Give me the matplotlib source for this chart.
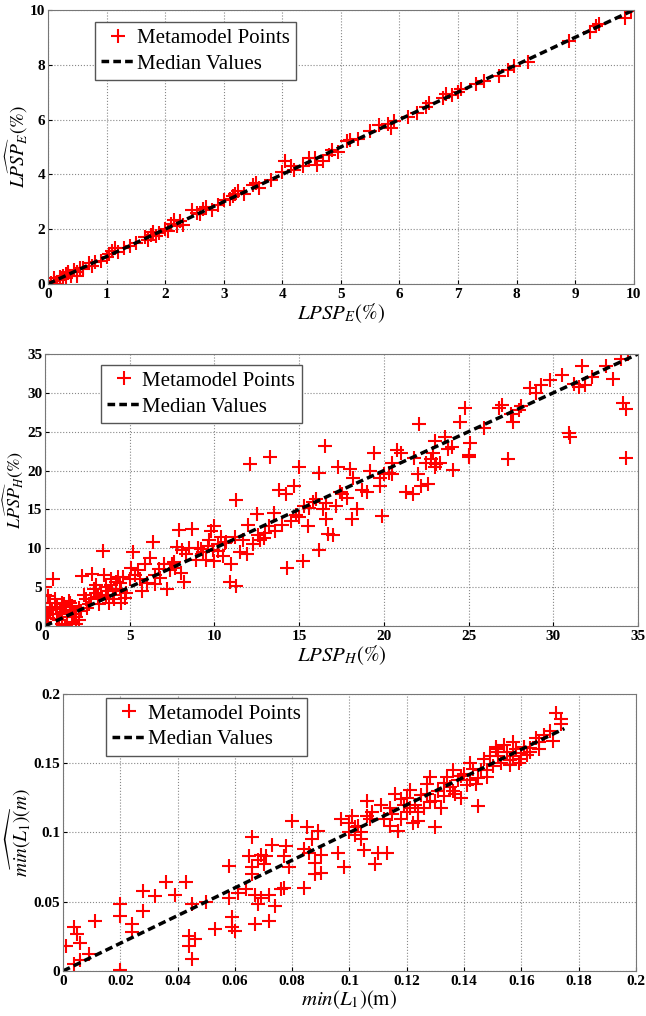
import numpy as np
import matplotlib
matplotlib.use("Agg")
import matplotlib.pyplot as plt
from matplotlib.ticker import FuncFormatter

plt.rcParams['font.family'] = ['Liberation Serif', 'DejaVu Serif']
plt.rcParams['mathtext.fontset'] = 'stix'

# panel 1: LPSP_E
e_x = [0.05, 0.1, 0.1, 0.15, 0.2, 0.25, 0.3, 0.3, 0.35, 0.4, 0.45, 0.5, 0.5, 0.55, 0.6, 0.7, 0.75, 0.8,
       0.9, 1.0, 1.1, 1.15, 1.2, 1.3, 1.4, 1.5, 1.65, 1.7, 1.75, 1.8, 1.85, 1.9, 2.0, 2.1, 2.15, 2.2,
       2.25, 2.3, 2.45, 2.55, 2.65, 2.7, 2.8, 2.9, 3.0, 3.1, 3.2, 3.25, 3.35, 3.5, 3.55, 3.6, 3.8, 4.0,
       4.05, 4.15, 4.2, 4.35, 4.45, 4.55, 4.6, 4.7, 4.8, 4.85, 4.95, 5.1, 5.15, 5.3, 5.5, 5.65, 5.8,
       5.85, 5.9, 6.15, 6.3, 6.45, 6.5, 6.75, 6.8, 6.9, 7.0, 7.05, 7.3, 7.45, 7.7, 7.85, 7.95, 8.2,
       8.9, 9.25, 9.35, 9.4, 9.85, 9.95, 0.2, 0.35, 0.6, 1.05, 2.05, 2.6, 3.15]
e_y = [0.05, 0.1, 0.2, 0.0, 0.15, 0.3, 0.35, 0.2, 0.4, 0.3, 0.5, 0.45, 0.3, 0.6, 0.6, 0.75, 0.65, 0.8,
       0.85, 1.0, 1.2, 1.3, 1.15, 1.3, 1.4, 1.5, 1.7, 1.6, 1.8, 1.9, 1.75, 1.85, 2.0, 2.2, 2.35, 2.1,
       2.3, 2.15, 2.7, 2.6, 2.75, 2.8, 2.7, 2.9, 3.05, 3.1, 3.3, 3.4, 3.3, 3.6, 3.7, 3.5, 3.8, 4.1,
       4.5, 4.3, 4.15, 4.3, 4.6, 4.6, 4.35, 4.5, 4.7, 4.9, 4.8, 5.2, 5.25, 5.3, 5.6, 5.8, 5.85,
       5.7, 5.95, 6.1, 6.25, 6.45, 6.6, 6.8, 6.95, 6.9, 7.0, 7.1, 7.3, 7.4, 7.6, 7.8, 7.95, 8.1,
       8.85, 9.2, 9.4, 9.5, 9.7, 9.95, 0.25, 0.45, 0.55, 1.1, 1.95, 2.55, 3.2]
e_med = [0, 10]

# panel 2: LPSP_H
h_x = [0, 0, 0, 0, 0, 0, 0.3, 0.3, 0.5, 0.5, 0.7, 0.8, 1, 1, 1, 1.2, 1.3, 1.5, 1.5, 1.6, 1.7, 1.8,
       2, 2, 1.2, 0.6, 1.4,
       2.2, 2.3, 2.4, 2.6, 2.8, 2.7, 3, 3, 3.1, 3.2, 3.4, 3.5, 3.6, 3.7, 3.8, 3.9, 4, 4.1, 4.2, 4.3,
       4.5, 4.5, 4.6, 4.7, 4.8, 3.3, 2.5,
       5.2, 5.3, 5.5, 5.6, 5.7, 5.9, 6, 6.2, 6.4, 6.5, 6.7, 7, 7.2, 7.4, 7.5, 7.7, 7.8, 7.9, 8, 8.2,
       8.3, 8.5, 8.7, 8.9, 9, 9.3, 9.5, 9.7, 9.8, 9.9, 10, 10, 10.2, 10.4, 10.5, 10.7, 10.9, 11,
       11.2, 11.3, 11.3, 11.5, 11.7, 11.9, 12, 12.1, 12.3, 12.5, 12.7, 12.9, 13, 13.3, 13.5, 13.6,
       13.8, 14, 14.2, 14.3, 14.5, 14.7, 15, 15, 15.2, 15.3, 15.5, 15.8, 16, 16.2, 16.2, 16.4, 16.5,
       16.6, 16.7, 17, 17.2, 17.3, 17.5, 17.8, 18, 18.1, 18.2, 18.4, 18.7, 19, 19.2, 19.4, 19.8,
       19.9, 20, 20.3, 20.5, 20.8, 21, 21.3, 21.7, 21.8, 22, 22.1, 22.2, 22.5, 22.6, 22.8, 23, 23,
       23.3, 23.6, 23.8, 24, 24.1, 24.5, 24.8, 25, 25, 25.1, 25.9, 26.8, 27, 27.3, 27.6, 28, 28.1,
       28.6, 29, 29.3, 29.8, 30.5, 30.9, 31, 31.5, 31.7, 31.9, 32.3, 33.1, 33.5, 34, 34.1, 34.3,
       34.3, 34.4,
       5, 5.1, 6.5, 4.2, 10.2, 9.6, 10.6, 16.6, 17.4, 19.8, 20.5, 0.2, 0.9, 1.8, 3.6, 4.4, 6.8, 7.6,
       8.1, 9.2, 12.6, 13.2, 14.8, 15.6, 22.9, 23.1, 27.5, 31.2,
       0.1, 0.4, 0.9, 1.1, 1.6, 2.1, 2.9, 3.9, 0.2, 0.7]
h_y = [5, 4, 3, 2.5, 1.5, 0.5, 2, 3, 6, 1.5, 2.5, 0.8, 3, 1.8, 0.3, 2.5, 1.2, 3, 2, 0.5, 1.5, 0.2,
       2.3, 0.8, 0.0, 3.5, 3.2,
       6.4, 4, 3.5, 2.8, 6.7, 3.5, 4.2, 5.3, 3.7, 2.8, 9.6, 6.5, 5, 4.5, 3, 6, 4, 3.5, 5.6, 6.3,
       3, 4.5, 6.3, 3.6, 4.2, 4, 2.3,
       9.5, 6.5, 7.2, 6, 4.5, 8, 5.5, 8.8, 10.8, 5.4, 7.3, 8, 4.7, 7.2, 8, 7.5, 10.2, 12.4, 6.8, 5.7,
       9.3, 10, 12.5, 8.5, 10, 9.5, 8.5, 11, 12.2, 9.8, 12.8, 8.3, 10.5, 11.5, 9, 10.8, 5.6, 8,
       11.5, 16.2, 5.2, 9.5, 11, 9.3, 13, 20.8, 10.5, 14.4, 11, 11.3, 12, 21.7, 14.5, 12.2,
       17.5, 13, 17, 7.5, 13.5, 18, 20.5, 14, 8.3, 15.5, 12.8, 16, 16.3, 19.7, 9.8, 15, 23.1,
       13.7, 11.8, 11.7, 15.4, 20.5, 17, 16.5, 20.2, 13.7, 19, 15, 17.5, 17.2, 20, 22.2, 18,
       14.2, 19.5, 19.7, 21, 22.6, 22.2, 17.2, 17, 21.6, 19.5, 26, 18, 21, 18.3, 21.5, 20.5, 23.8,
       21, 24.3, 22.8, 23, 20.1, 26.2, 28.1, 22, 21.7, 23.5, 25.5, 28, 28.4, 21.5, 26.3, 27.8, 28.3,
       30.6, 30, 31, 31.6, 32.3, 24.8, 24.3, 30.8, 33.5, 31, 32.1, 33.4, 31.8, 34.3, 28.7, 27.9,
       21.6, 35,
       6, 7.5, 6.5, 4.8, 9.7, 10.3, 10.7, 15.8, 17.3, 19, 19.6, 1, 2.2, 1.2, 4, 5.5, 6.2, 8.2,
       9.8, 9.9, 11.7, 12.8, 14.3, 15.2, 22.2, 20.9, 27.3, 31.2,
       1.0, 2.2, 1.5, 2.8, 2.6, 1.9, 4.7, 5.3, 3.8, 0.9]
h_med = [0, 35]

# panel 3: min(L1)
l_x = [0.001, 0.004, 0.004, 0.005, 0.006, 0.006, 0.009, 0.011, 0.02, 0.02, 0.02, 0.024, 0.024, 0.028,
       0.028, 0.032, 0.036, 0.039, 0.043, 0.044, 0.044, 0.045, 0.045, 0.046, 0.05, 0.053, 0.058,
       0.058, 0.059, 0.059, 0.06, 0.061, 0.064, 0.065, 0.066, 0.066, 0.066, 0.067, 0.067, 0.068,
       0.068, 0.069, 0.069, 0.07, 0.071, 0.072, 0.072, 0.073, 0.074, 0.076, 0.077, 0.077, 0.078,
       0.079, 0.08, 0.084, 0.084, 0.085, 0.086, 0.087, 0.088, 0.088, 0.089, 0.09, 0.09, 0.096,
       0.097, 0.098, 0.1, 0.1, 0.101, 0.102, 0.103, 0.104, 0.104, 0.105, 0.106, 0.107, 0.108,
       0.109, 0.11, 0.111, 0.112, 0.113, 0.114, 0.115, 0.116, 0.117, 0.118, 0.119, 0.12, 0.12,
       0.121, 0.122, 0.123, 0.124, 0.125, 0.126, 0.127, 0.128, 0.128, 0.13, 0.131, 0.132, 0.133,
       0.134, 0.135, 0.136, 0.137, 0.138, 0.139, 0.14, 0.141, 0.142, 0.143, 0.144, 0.145, 0.146,
       0.147, 0.148, 0.149, 0.15, 0.151, 0.152, 0.153, 0.154, 0.155, 0.156, 0.157, 0.158, 0.159,
       0.16, 0.161, 0.162, 0.163, 0.165, 0.166, 0.168, 0.17, 0.171, 0.172, 0.174, 0.174,
       0.102, 0.106, 0.114, 0.118, 0.124, 0.13, 0.136, 0.142, 0.148, 0.152, 0.156, 0.16, 0.166,
       0.121, 0.127, 0.133, 0.139, 0.145, 0.151, 0.157, 0.163]
l_y = [0.018, 0.032, 0.005, 0.027, 0.02, 0.008, 0.012, 0.036, 0.048, 0.04, 0.001, 0.034, 0.028, 0.058,
       0.043, 0.054, 0.064, 0.055, 0.064, 0.025, 0.018, 0.048, 0.009, 0.023, 0.05, 0.03, 0.076,
       0.053, 0.032, 0.039, 0.029, 0.056, 0.059, 0.083, 0.075, 0.097, 0.07, 0.055, 0.034, 0.08,
       0.048, 0.084, 0.053, 0.077, 0.083, 0.036, 0.055, 0.091, 0.047, 0.059, 0.083, 0.06, 0.09,
       0.075, 0.108, 0.06, 0.088, 0.104, 0.085, 0.095, 0.078, 0.07, 0.101, 0.084, 0.071, 0.085,
       0.11, 0.075, 0.107, 0.1, 0.112, 0.098, 0.105, 0.1, 0.095, 0.087, 0.123, 0.11, 0.115,
       0.077, 0.085, 0.12, 0.11, 0.085, 0.105, 0.113, 0.128, 0.101, 0.11, 0.12, 0.115, 0.125,
       0.131, 0.107, 0.12, 0.108, 0.127, 0.118, 0.135, 0.122, 0.14, 0.104, 0.13, 0.118, 0.126,
       0.14, 0.133, 0.145, 0.128, 0.138, 0.125, 0.142, 0.134, 0.15, 0.146, 0.135, 0.119, 0.145,
       0.153, 0.14, 0.155, 0.148, 0.16, 0.155, 0.15, 0.163, 0.158, 0.152, 0.165, 0.16, 0.15,
       0.153, 0.162, 0.156, 0.161, 0.168, 0.165, 0.17, 0.173, 0.166, 0.186, 0.178, 0.182,
       0.104, 0.112, 0.118, 0.124, 0.115, 0.123, 0.13, 0.138, 0.145, 0.158, 0.149, 0.157, 0.16,
       0.118, 0.128, 0.136, 0.141, 0.139, 0.162, 0.155, 0.158]
l_med = [0, 0.175]

panels = [
    dict(x=e_x, y=e_y, med=e_med, lim=10, xt=np.arange(0, 11, 1), yt=np.arange(0, 11, 2),
         xlabel=r'$LPSP_E(\%)$', ylabel=r'$L\widehat{PSP}_E(\%)$',
         rect=[0.0743, 0.7205, 0.9067, 0.2697], leg=(0.080, 0.956), ylx=-0.030, ysz=14),
    dict(x=h_x, y=h_y, med=h_med, lim=35, xt=np.arange(0, 36, 5), yt=np.arange(0, 36, 5),
         xlabel=r'$LPSP_H(\%)$', ylabel=r'$L\widehat{PSP}_H(\%)$',
         rect=[0.0697, 0.3839, 0.9179, 0.2677], leg=(0.094, 0.96), ylx=-0.033, ysz=13),
    dict(x=l_x, y=l_y, med=l_med, lim=0.2, xt=np.arange(0, 0.201, 0.02), yt=np.arange(0, 0.201, 0.05),
         xlabel=r'$min(L_1)(\mathrm{m})$', ylabel=r'$\widehat{min(L_1)}(m)$',
         rect=[0.0975, 0.0443, 0.887, 0.2727], leg=(0.075, 0.986), ylx=-0.052, ysz=14),
]

fig = plt.figure(figsize=(6.46, 10.16), dpi=100)
for p in panels:
    ax = fig.add_axes(p['rect'])
    ax.plot(p['x'], p['y'], '+', color='red', markersize=10, markeredgewidth=1.5,
            label='Metamodel Points')
    ax.plot(p['med'], p['med'], '--', color='black', linewidth=2.5, dashes=(2.2, 1.2),
            label='Median Values')
    ax.set_xlim(0, p['lim'])
    ax.set_ylim(0, p['lim'])
    ax.set_xticks(p['xt'])
    ax.set_yticks(p['yt'])
    fmt = FuncFormatter(lambda v, pos: '%g' % round(v, 4))
    ax.xaxis.set_major_formatter(fmt)
    ax.yaxis.set_major_formatter(fmt)
    ax.grid(True, linestyle=':', color='#888888', linewidth=0.8)
    ax.tick_params(direction='in', length=3, labelsize=11, pad=3)
    ax.tick_params(axis='y', pad=2)
    for lab in ax.get_xticklabels() + ax.get_yticklabels():
        lab.set_fontweight('bold')
    for s in ax.spines.values():
        s.set_color('#777777')
    ax.set_xlabel(p['xlabel'], fontsize=15, labelpad=0)
    ax.set_ylabel(p['ylabel'], fontsize=p['ysz'])
    ax.yaxis.set_label_coords(p['ylx'], 0.5)
    leg = ax.legend(loc='upper left', bbox_to_anchor=p['leg'], borderaxespad=0, fontsize=15,
                    handlelength=1.6, handletextpad=0.1, borderpad=0.3,
                    labelspacing=0.3, fancybox=False, framealpha=1)
    leg.get_frame().set_edgecolor('#555555')
    leg.get_frame().set_linewidth(1.0)

fig.savefig('out.png', dpi=100)
